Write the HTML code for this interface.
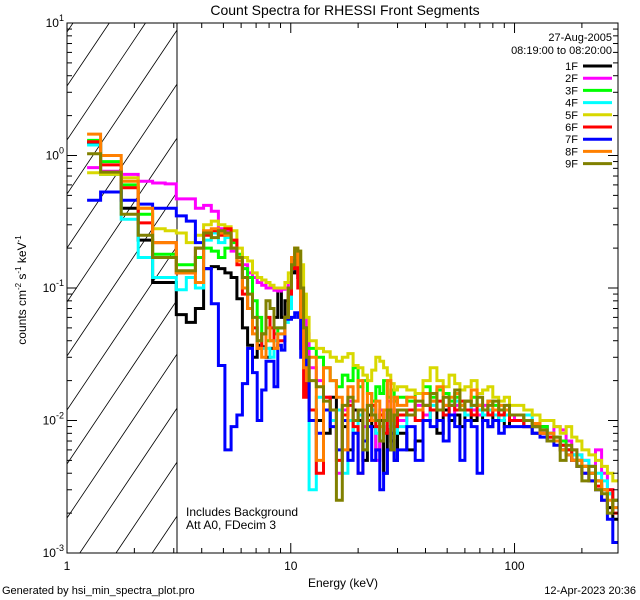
<!DOCTYPE html>
<html><head><meta charset="utf-8"><style>
html,body{margin:0;padding:0;background:#fff;width:640px;height:600px;overflow:hidden;}
svg{display:block;font-family:"Liberation Sans",sans-serif;}
</style></head><body>
<svg id="chart" width="640" height="600" viewBox="0 0 640 600" xmlns="http://www.w3.org/2000/svg">
<defs><clipPath id="plotclip"><rect x="67" y="23" width="551" height="530"/></clipPath></defs>
<rect width="640" height="600" fill="#fff"/>
<text x="345" y="15" font-size="14" text-anchor="middle">Count Spectra for RHESSI Front Segments</text>
<g id="hatch"></g>
<line x1="177" y1="23" x2="177" y2="553" stroke="#000" stroke-width="1"/>
<g id="series" clip-path="url(#plotclip)"></g>
<rect x="67" y="23" width="551" height="530" fill="none" stroke="#000" stroke-width="1"/>
<g id="axes"></g>
<text transform="translate(26,290) rotate(-90)" font-size="12" text-anchor="middle">counts cm<tspan dy="-5" font-size="8">-2</tspan><tspan dy="5"> s</tspan><tspan dy="-5" font-size="8">-1</tspan><tspan dy="5"> keV</tspan><tspan dy="-5" font-size="8">-1</tspan></text>
<text x="343" y="587" font-size="12" text-anchor="middle">Energy (keV)</text>
<text x="2" y="594" font-size="11">Generated by hsi_min_spectra_plot.pro</text>
<text x="636" y="594" font-size="11" text-anchor="end">12-Apr-2023 20:36</text>
<text x="186" y="516" font-size="12">Includes Background</text>
<text x="186" y="529" font-size="12">Att A0, FDecim 3</text>
<text x="612" y="41" font-size="11" text-anchor="end">27-Aug-2005</text>
<text x="612" y="54" font-size="11" text-anchor="end">08:19:00 to 08:20:00</text>
<g id="legend"></g>
</svg>
<script>
const NS="http://www.w3.org/2000/svg";
const edges=[1.23,1.413,1.747,2.08,2.413,2.747,3.08,3.413,3.747,4.08,4.413,4.747,5.08,5.413,5.747,6.08,6.413,6.747,7.08,7.413,7.747,8.08,8.413,8.747,9.08,9.413,9.747,10.08,10.413,10.747,11.08,11.413,11.747,12.08,
13,14,15,16,17,18,19,20,21,22,23,24,25,26,27,28,29,30,
33,36,39,42,45,48,51,54,57,60,64,68,72,76,80,85,90,95,100,
110,120,130,140,150,160,170,180,190,200,215,230,245,260,275,290];
const seriesNames=["1F","2F","3F","4F","5F","6F","7F","8F","9F"];
const seriesColors=["#000000","#ff00ff","#00ff00","#00ffff","#d8d800","#ff0000","#0000ff","#ff8000","#808000"];
const s1F=[1.25,0.72,0.40,0.23,0.11,0.11,0.063,0.055,0.07,0.14,0.145,0.14,0.13,0.12,0.083,0.05,0.037,0.03,0.037,0.036,0.03,0.035,0.06,0.1,0.06,0.08,0.1,0.13,0.16,0.12,0.06,0.04,0.025,
0.012,0.01,0.008,0.015,0.012,0.009,0.006,0.012,0.01,0.005,0.011,0.009,0.006,0.01,0.004,0.009,0.007,0.005,
0.008,0.006,0.007,0.01,0.012,0.008,0.012,0.01,0.011,0.009,0.012,0.01,0.011,0.01,0.009,0.011,0.01,0.009,0.01,
0.01,0.009,0.008,0.009,0.007,0.007,0.006,0.006,0.005,0.005,0.0045,0.004,0.0035,0.003,0.0022,0.0018];
const s2F=[0.81,0.76,0.72,0.64,0.62,0.61,0.47,0.47,0.40,0.42,0.38,0.28,0.27,0.19,0.17,0.15,0.13,0.12,0.11,0.105,0.1,0.1,0.096,0.095,0.098,0.1,0.11,0.15,0.17,0.14,0.09,0.06,0.045,
0.025,0.02,0.015,0.012,0.004,0.012,0.014,0.01,0.012,0.009,0.013,0.01,0.005,0.012,0.01,0.014,0.008,0.012,
0.01,0.012,0.013,0.011,0.014,0.012,0.013,0.011,0.013,0.012,0.014,0.012,0.011,0.013,0.012,0.011,0.012,0.011,0.01,
0.011,0.01,0.009,0.008,0.0075,0.009,0.0085,0.007,0.006,0.0055,0.005,0.0045,0.006,0.004,0.003,0.0025];
const s3F=[1.3,0.9,0.6,0.36,0.18,0.18,0.15,0.15,0.17,0.2,0.19,0.17,0.2,0.22,0.18,0.14,0.12,0.08,0.06,0.045,0.04,0.04,0.045,0.05,0.05,0.06,0.08,0.15,0.19,0.16,0.08,0.045,0.035,
0.035,0.03,0.025,0.02,0.018,0.022,0.02,0.025,0.018,0.02,0.016,0.014,0.018,0.016,0.02,0.015,0.017,0.014,
0.015,0.014,0.016,0.018,0.015,0.017,0.016,0.014,0.015,0.013,0.014,0.015,0.013,0.012,0.014,0.013,0.012,0.011,0.011,
0.011,0.01,0.009,0.009,0.008,0.0075,0.007,0.006,0.0055,0.005,0.0045,0.004,0.0035,0.003,0.0028,0.0025];
const s4F=[1.2,0.72,0.33,0.17,0.12,0.12,0.097,0.12,0.1,0.23,0.26,0.22,0.24,0.2,0.17,0.12,0.07,0.05,0.04,0.035,0.035,0.03,0.04,0.045,0.045,0.055,0.07,0.14,0.18,0.15,0.07,0.035,0.02,
0.003,0.015,0.012,0.01,0.012,0.004,0.01,0.008,0.011,0.006,0.01,0.012,0.008,0.007,0.01,0.009,0.011,0.008,
0.009,0.011,0.012,0.01,0.013,0.012,0.011,0.013,0.014,0.012,0.011,0.013,0.012,0.011,0.012,0.011,0.01,0.011,0.01,
0.01,0.011,0.009,0.0085,0.008,0.007,0.0065,0.006,0.0055,0.0055,0.005,0.0045,0.004,0.0035,0.0028,0.0022];
const s5F=[0.74,0.72,0.68,0.40,0.28,0.27,0.26,0.22,0.25,0.3,0.32,0.3,0.29,0.27,0.2,0.17,0.16,0.13,0.12,0.115,0.11,0.105,0.1,0.1,0.1,0.11,0.13,0.17,0.2,0.19,0.15,0.09,0.06,
0.04,0.035,0.033,0.03,0.028,0.03,0.032,0.026,0.025,0.022,0.02,0.024,0.03,0.028,0.025,0.022,0.019,0.017,
0.018,0.017,0.016,0.02,0.025,0.02,0.018,0.022,0.019,0.017,0.018,0.02,0.016,0.017,0.018,0.015,0.014,0.015,0.013,
0.013,0.012,0.011,0.01,0.01,0.009,0.008,0.009,0.0075,0.007,0.006,0.0055,0.005,0.0045,0.004,0.0035];
const s6F=[1.27,0.85,0.57,0.31,0.22,0.22,0.13,0.13,0.2,0.25,0.27,0.25,0.28,0.23,0.15,0.09,0.07,0.05,0.035,0.045,0.06,0.05,0.035,0.04,0.04,0.06,0.09,0.14,0.18,0.1,0.035,0.015,0.02,
0.012,0.004,0.015,0.012,0.005,0.011,0.013,0.009,0.004,0.012,0.01,0.013,0.009,0.011,0.008,0.012,0.01,0.009,
0.011,0.012,0.01,0.013,0.012,0.014,0.011,0.013,0.012,0.014,0.012,0.011,0.013,0.012,0.011,0.012,0.011,0.012,0.01,
0.01,0.009,0.009,0.008,0.0075,0.007,0.0065,0.006,0.005,0.0045,0.004,0.0035,0.0032,0.0025,0.003,0.002];
const s7F=[0.46,0.53,0.46,0.43,0.40,0.40,0.35,0.32,0.22,0.14,0.076,0.026,0.006,0.009,0.011,0.019,0.035,0.023,0.01,0.017,0.028,0.028,0.018,0.037,0.034,0.058,0.058,0.06,0.065,0.06,0.03,0.05,0.02,
0.01,0.008,0.012,0.009,0.006,0.01,0.005,0.008,0.004,0.007,0.009,0.005,0.006,0.003,0.004,0.006,0.008,0.005,
0.006,0.009,0.005,0.01,0.009,0.01,0.007,0.011,0.009,0.005,0.01,0.009,0.004,0.01,0.009,0.01,0.008,0.009,0.009,
0.009,0.009,0.008,0.0075,0.007,0.0065,0.006,0.0055,0.005,0.0045,0.004,0.0035,0.003,0.0025,0.0018,0.0012];
const s8F=[1.45,1.0,0.64,0.4,0.22,0.22,0.13,0.13,0.11,0.27,0.28,0.26,0.25,0.2,0.16,0.1,0.07,0.045,0.035,0.03,0.05,0.04,0.035,0.045,0.045,0.06,0.1,0.17,0.2,0.15,0.06,0.025,0.02,
0.03,0.005,0.025,0.02,0.015,0.006,0.018,0.014,0.02,0.012,0.016,0.01,0.014,0.009,0.012,0.02,0.01,0.015,
0.013,0.015,0.012,0.016,0.014,0.018,0.013,0.015,0.016,0.013,0.014,0.017,0.013,0.012,0.014,0.012,0.013,0.012,0.011,
0.011,0.01,0.0095,0.008,0.008,0.007,0.006,0.0055,0.005,0.005,0.0045,0.004,0.0035,0.003,0.0025,0.0022];
const s9F=[1.03,0.75,0.36,0.25,0.17,0.17,0.135,0.135,0.2,0.26,0.24,0.27,0.26,0.2,0.17,0.12,0.09,0.06,0.04,0.045,0.08,0.07,0.05,0.05,0.05,0.06,0.1,0.15,0.2,0.19,0.1,0.05,0.03,
0.02,0.018,0.014,0.012,0.0025,0.013,0.015,0.01,0.012,0.006,0.013,0.011,0.01,0.007,0.01,0.012,0.006,0.011,
0.012,0.011,0.014,0.013,0.016,0.012,0.015,0.013,0.017,0.012,0.014,0.013,0.015,0.012,0.013,0.014,0.012,0.013,0.011,
0.011,0.01,0.009,0.0085,0.007,0.0075,0.005,0.0065,0.006,0.0045,0.0035,0.0045,0.003,0.0028,0.002,0.0025];
const seriesValues=[s1F,s2F,s3F,s4F,s5F,s6F,s7F,s8F,s9F];
const xTickLabels=["1","10","100"];
const yTickExps=["1","0","-1","-2","-3"];

const X0=67,X1=618,Y0=23,Y1=553;
const xMin=1,xMax=290,yMin=1e-3,yMax=10;
function xs(e){return X0+(Math.log10(e)-Math.log10(xMin))/(Math.log10(xMax)-Math.log10(xMin))*(X1-X0);}
function ys(v){return Y1-(Math.log10(v)-Math.log10(yMin))/(Math.log10(yMax)-Math.log10(yMin))*(Y1-Y0);}

// hatch lines, clipped manually to [67,177]x[23,553]
const hatch=document.getElementById('hatch');
const HX0=67,HX1=177,slope=1.49;
for(let k=-2;k<14;k++){
  const yl=140+k*54; // y at x=HX0; line y = yl - slope*(x-HX0)
  let xa=HX0, xb=HX1;
  if(yl>Y1) xa=Math.max(xa,HX0+(yl-Y1)/slope);
  xb=Math.min(xb,HX0+(yl-Y0)/slope);
  if(xb<=xa) continue;
  const l=document.createElementNS(NS,'line');
  l.setAttribute('x1',xa.toFixed(1));l.setAttribute('y1',(yl-slope*(xa-HX0)).toFixed(1));
  l.setAttribute('x2',xb.toFixed(1));l.setAttribute('y2',(yl-slope*(xb-HX0)).toFixed(1));
  l.setAttribute('stroke','#000');l.setAttribute('stroke-width','0.8');
  
  
  hatch.appendChild(l);
}

const sg=document.getElementById('series');
seriesValues.forEach((vals,si)=>{
  let d='';
  for(let i=0;i<vals.length;i++){
    const y=ys(vals[i]).toFixed(1),xa=xs(edges[i]).toFixed(1),xb=xs(edges[i+1]).toFixed(1);
    d+=(i===0?'M':'L')+xa+','+y+'L'+xb+','+y;
  }
  const p=document.createElementNS(NS,'path');
  p.setAttribute('d',d);p.setAttribute('fill','none');
  p.setAttribute('stroke',seriesColors[si]);p.setAttribute('stroke-width','3');
  
  
  sg.appendChild(p);
});

const ax=document.getElementById('axes');
function ln(x1,y1,x2,y2,name){
  const l=document.createElementNS(NS,'line');
  l.setAttribute('x1',x1);l.setAttribute('y1',y1);l.setAttribute('x2',x2);l.setAttribute('y2',y2);
  l.setAttribute('stroke','#000');l.setAttribute('stroke-width','1');
  
  
  ax.appendChild(l);
}
for(let dec=1;dec<=100;dec*=10){
  for(let m=1;m<=9;m++){
    const e=dec*m; if(e>xMax)break;
    const x=xs(e), len=m===1?10:5;
    ln(x,Y1,x,Y1-len,'x-tick');ln(x,Y0,x,Y0+len,'x-tick-top');
  }
}
xTickLabels.forEach(lbl=>{
  const t=document.createElementNS(NS,'text');
  t.setAttribute('x',xs(parseFloat(lbl)));t.setAttribute('y',570);
  t.setAttribute('font-size','12');t.setAttribute('text-anchor','middle');
  t.textContent=lbl;
  
  
  ax.appendChild(t);
});
for(let p=-3;p<1;p++){
  for(let m=1;m<=9;m++){
    const v=m*Math.pow(10,p);const y=ys(v);const len=m===1?10:5;
    ln(X0,y,X0+len,y,'y-tick');ln(X1,y,X1-len,y,'y-tick-right');
  }
}
ln(X0,ys(10),X0+10,ys(10),'y-tick');ln(X1,ys(10),X1-10,ys(10),'y-tick-right');
yTickExps.forEach(ex=>{
  const t=document.createElementNS(NS,'text');
  const y=ys(Math.pow(10,parseFloat(ex)));
  t.setAttribute('x',X0-3);t.setAttribute('y',y+4);
  t.setAttribute('font-size','12');t.setAttribute('text-anchor','end');
  t.innerHTML='10<tspan dy="-6" font-size="9">'+ex+'</tspan>';
  
  
  ax.appendChild(t);
});

const lg=document.getElementById('legend');
seriesNames.forEach((n,i)=>{
  const y=66+i*12.2;
  const t=document.createElementNS(NS,'text');
  t.setAttribute('x',578);t.setAttribute('y',y+4);t.setAttribute('font-size','11');t.setAttribute('text-anchor','end');
  t.textContent=n;
  
  
  lg.appendChild(t);
  const l=document.createElementNS(NS,'line');
  l.setAttribute('x1',583);l.setAttribute('x2',612);l.setAttribute('y1',y);l.setAttribute('y2',y);
  l.setAttribute('stroke',seriesColors[i]);l.setAttribute('stroke-width','3');
  
  
  lg.appendChild(l);
});
</script>
</body></html>
